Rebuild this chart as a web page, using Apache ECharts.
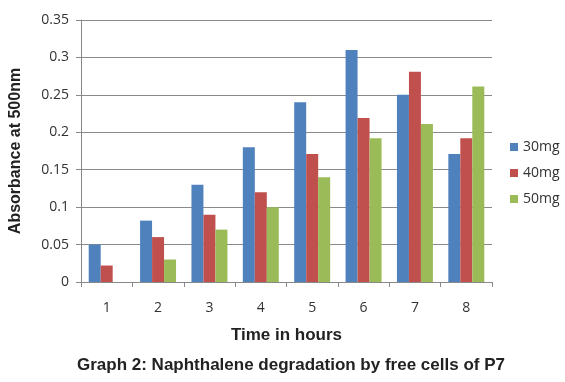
<!DOCTYPE html>
<html><head><meta charset="utf-8">
<script src="https://cdn.jsdelivr.net/npm/echarts@6/dist/echarts.min.js"></script>
<style>html,body{margin:0;padding:0;background:#fff}#c{width:565px;height:382px}</style>
</head><body><div id="c"></div>
<script>
const categories = ['1','2','3','4','5','6','7','8'];
const s30 = [0.05, 0.082, 0.13, 0.18, 0.24, 0.31, 0.25, 0.171];
const s40 = [0.022, 0.06, 0.09, 0.12, 0.171, 0.219, 0.281, 0.192];
const s50 = [0, 0.03, 0.07, 0.10, 0.14, 0.192, 0.211, 0.261];
const seriesNames = ['30mg','40mg','50mg'];
const yTicks = ['0','0.05','0.1','0.15','0.2','0.25','0.3','0.35'];

const chart = echarts.init(document.getElementById('c'), null, {renderer:'canvas'});
const font = 'Liberation Sans, Arial, sans-serif';
chart.setOption({
  animation:false,
  backgroundColor:'#fff',
  grid:{left:80, right:73, top:20, bottom:100},
  legend:{
    orient:'vertical', left:505, top:135, itemWidth:8, itemHeight:8, itemGap:12,
    icon:'rect',
    textStyle:{fontFamily:'"Open Sans", Calibri, sans-serif', fontSize:14, color:'#333'},
    data:seriesNames
  },
  xAxis:{
    type:'category', data:categories,
    name:'Time in hours', nameLocation:'middle', nameGap:45,
    nameTextStyle:{fontFamily:font, fontWeight:'bold', fontSize:17, color:'#222'},
    axisLine:{lineStyle:{color:'#888', width:1}},
    axisTick:{show:true, length:5, lineStyle:{color:'#888'}},
    axisLabel:{margin:19, fontFamily:'"Open Sans", sans-serif', fontSize:14, color:'#333'}
  },
  yAxis:{
    type:'value', min:0, max:0.35, interval:0.05,
    name:'Absorbance at 500nm', nameLocation:'middle', nameGap:57,
    nameTextStyle:{fontFamily:font, fontWeight:'bold', fontSize:16, color:'#222'},
    axisLine:{show:true, lineStyle:{color:'#888'}},
    axisTick:{show:true, length:5, lineStyle:{color:'#888'}},
    splitLine:{lineStyle:{color:'#8a8a8a', width:1}},
    axisLabel:{margin:12, fontFamily:'"Open Sans", sans-serif', fontSize:14, color:'#333',
      formatter:(v)=>{const i=Math.round(v/0.05);return yTicks[i]!==undefined?yTicks[i]:v;}}
  },
  series:[
    {name:seriesNames[0], type:'bar', data:s30, barGap:'0%', barCategoryGap:'30%', itemStyle:{color:'#4F81BD'}},
    {name:seriesNames[1], type:'bar', data:s40, barGap:'0%', barCategoryGap:'30%', itemStyle:{color:'#C0504D'}},
    {name:seriesNames[2], type:'bar', data:s50, barGap:'0%', barCategoryGap:'30%', itemStyle:{color:'#9BBB59'}}
  ],
  graphic:[{
    type:'text', left:77, top:357,
    style:{text:'Graph 2: Naphthalene degradation by free cells of P7', fontFamily:font, fontWeight:'bold', fontSize:17, fill:'#222'}
  }]
});
</script></body></html>
